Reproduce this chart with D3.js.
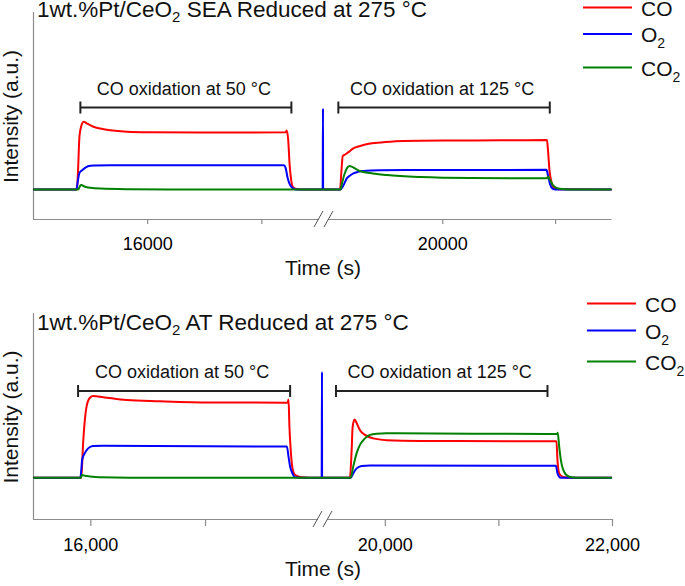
<!DOCTYPE html>
<html>
<head>
<meta charset="utf-8">
<script src="https://cdn.jsdelivr.net/npm/d3@7/dist/d3.min.js"></script>
<style>
  body { margin: 0; background: #fff; }
  svg { display: block; font-family: "Liberation Sans", Arial, Helvetica, sans-serif; }
</style>
</head>
<body>
<svg id="chart" width="685" height="586"></svg>
<script>
// ---------------- DATA ----------------
const seriesNames = ["CO", "O2", "CO2"];

// Panel 1: SEA (time s, intensity a.u.)
const topCO = [[15000,0],[15385,0],[15394,0.3],[15407,0.9],[15424,1.08],[15444,1.145],[15476,1.11],[15529,1.06],[15590,1.03],[15677,1.0],[15823,0.976],[16026,0.967],[16463,0.962],[17213,0.967],[17222,0.996],[17235,0.84],[17248,0.41],[17261,0.16],[17277,0.04],[17309,0.007],[17336,0],[17500,0],
  [19000,0],[19094,0],[19107,0.33],[19118,0.565],[19139,0.59],[19174,0.64],[19212,0.695],[19272,0.734],[19361,0.776],[19494,0.80],[19654,0.818],[20071,0.827],[20515,0.83],[20928,0.835],[20937,0.666],[20950,0.33],[20968,0.125],[20989,0.032],[21030,0.005],[21500,0]];
const topO2 = [[15000,0],[15380,0],[15394,0.16],[15407,0.28],[15433,0.33],[15459,0.37],[15503,0.40],[15546,0.404],[15677,0.41],[17200,0.41],[17213,0.36],[17231,0.19],[17248,0.09],[17274,0.024],[17300,0],[17500,0],[17537,0],[17540,1.37],[18944,0],
  [19098,0],[19121,0.057],[19154,0.188],[19183,0.235],[19212,0.272],[19254,0.298],[19301,0.311],[19449,0.323],[19805,0.328],[20924,0.331],[20937,0.24],[20955,0.09],[20977,0.015],[21004,0],[21500,0]];
const topCO2 = [[15000,0],[15398,0],[15411,0.057],[15424,0.074],[15450,0.05],[15503,0.027],[15590,0.014],[15852,0.004],[16200,0],[17500,0],
  [19000,0],[19098,0],[19112,0.108],[19134,0.26],[19156,0.36],[19177,0.396],[19201,0.382],[19236,0.345],[19272,0.31],[19361,0.277],[19510,0.243],[19805,0.21],[20249,0.193],[20928,0.188],[20937,0.218],[20955,0.16],[20977,0.083],[21012,0.027],[21066,0.007],[21120,0],[21500,0]];

// Panel 2: AT
const botCO = [[15500,0],[15921,0],[15937,0.59],[15952,0.98],[15967,1.21],[15996,1.36],[16024,1.39],[16112,1.37],[16316,1.32],[16607,1.30],[17044,1.28],[17721,1.276],[17728,1.33],[17736,0.87],[17749,0.42],[17766,0.13],[17786,0.048],[17830,0.014],[17917,0],[18000,0],
  [19500,0],[19693,0],[19708,0.47],[19717,0.87],[19734,0.99],[19752,0.93],[19781,0.81],[19825,0.73],[19897,0.67],[20015,0.64],[20307,0.625],[21511,0.62],[21520,0.30],[21535,0.076],[21564,0.019],[21623,0],[22000,0]];
const botO2 = [[15500,0],[15913,0],[15921,0.13],[15928,0.30],[15952,0.42],[15981,0.50],[16024,0.54],[16112,0.545],[17714,0.53],[17728,0.36],[17742,0.19],[17762,0.076],[17786,0.008],[17830,0],[18000,0],[18017,0],[18020,1.80],[19448,0],
  [19699,0],[19722,0.076],[19752,0.16],[19796,0.20],[19868,0.21],[21506,0.205],[21520,0.076],[21535,0.019],[21550,0],[22000,0]];
const botCO2 = [[15500,0],[15917,0],[15928,0.048],[15952,0.034],[15996,0.022],[16083,0.008],[16345,0],[18000,0],
  [19500,0],[19699,0],[19722,0.19],[19752,0.42],[19781,0.56],[19825,0.67],[19868,0.73],[19927,0.75],[20015,0.756],[21518,0.744],[21522,0.766],[21535,0.53],[21550,0.30],[21579,0.10],[21623,0.019],[21693,0],[22000,0]];

// Bracket annotations [start, end]
const topBrackets = [[15415,17263],[19079,20953]];
const botBrackets = [[15893,17742],[19570,21432]];
const bracketLabels = ["CO oxidation at 50 °C", "CO oxidation at 125 °C"];
const topBracketLevel = 1.385;
const botBracketLevel = 1.475;

// Axis domains (broken axis: [start, breakA, breakB, end])
const topXDomain = [15000, 17540, 18943, 21500];
const botXDomain = [15500, 18020, 19447, 22000];
const topYDomain = [-0.5, 3.0];
const botYDomain = [-0.7, 2.8];

// Tick values and labels
const topTicks = [16000, 17000, 20000, 21000];
const topTickLabels = {16000: "16000", 20000: "20000"};
const botTicks = [16000, 17000, 20000, 21000, 22000];
const botTickLabels = {16000: "16,000", 20000: "20,000", 22000: "22,000"};

const titleParts = [["1wt.%Pt/CeO", "2", " SEA Reduced at 275 °C"], ["1wt.%Pt/CeO", "2", " AT Reduced at 275 °C"]];

// ---------------- DRAW ----------------
const colors = {CO: "#ff0000", O2: "#0000ff", CO2: "#008000"};
const svg = d3.select("#chart");
svg.append("rect").attr("width", 685).attr("height", 586).attr("fill", "#fff");

function panel(cfg) {
  const g = svg.append("g");
  const x = d3.scaleLinear().domain(cfg.xDomain).range([33, cfg.breakX, cfg.breakX, cfg.right]);
  const y = d3.scaleLinear().domain(cfg.yDomain).range([cfg.bottom, cfg.top]);
  const axisCol = "#8c8c8c";

  // y axis line
  g.append("line").attr("x1", 33.5).attr("x2", 33.5).attr("y1", cfg.top).attr("y2", cfg.bottom)
    .attr("stroke", axisCol).attr("stroke-width", 1.2);

  // x axis via d3 axis
  const ax = d3.axisBottom(x).tickValues(cfg.ticks).tickSize(cfg.tickSize).tickPadding(cfg.tickPad)
    .tickFormat(d => cfg.tickLabels[d] || "");
  const axG = g.append("g").attr("transform", `translate(0,${cfg.bottom})`).call(ax);
  axG.select(".domain").remove();
  axG.selectAll(".tick line").attr("stroke", axisCol).attr("stroke-width", 1.2);
  axG.selectAll(".tick text").attr("fill", "#000").style("font-size", "18px")
    .style("font-family", '"Liberation Sans", Arial, sans-serif');
  // axis line with break gap
  g.append("line").attr("x1", 33).attr("x2", cfg.breakX - 4).attr("y1", cfg.bottom + 0.5).attr("y2", cfg.bottom + 0.5)
    .attr("stroke", axisCol).attr("stroke-width", 1.2);
  g.append("line").attr("x1", cfg.breakX + 5).attr("x2", cfg.right).attr("y1", cfg.bottom + 0.5).attr("y2", cfg.bottom + 0.5)
    .attr("stroke", axisCol).attr("stroke-width", 1.2);
  [-4.5, 5.5].forEach(off => {
    g.append("line")
      .attr("x1", cfg.breakX + off - 4.5).attr("y1", cfg.bottom + 8)
      .attr("x2", cfg.breakX + off + 4.5).attr("y2", cfg.bottom - 8)
      .attr("stroke", "#555").attr("stroke-width", 1);
  });

  // lines
  const line = d3.line().x(d => x(d[0])).y(d => y(d[1])).curve(d3.curveMonotoneX);
  const order = [["CO", cfg.data.CO], ["O2", cfg.data.O2], ["CO2", cfg.data.CO2]];
  order.forEach(([k, arr]) => {
    g.append("path").datum(arr).attr("d", line).attr("fill", "none")
      .attr("stroke", colors[k]).attr("stroke-width", 2).attr("stroke-linejoin", "round");
  });

  // brackets
  cfg.brackets.forEach((b, i) => {
    const by = y(cfg.bracketLevel);
    const x0 = x(b[0]), x1 = x(b[1]);
    g.append("line").attr("x1", x0).attr("x2", x1).attr("y1", by).attr("y2", by)
      .attr("stroke", "#222").attr("stroke-width", 2);
    [x0, x1].forEach(xx => g.append("line").attr("x1", xx).attr("x2", xx).attr("y1", by - 6).attr("y2", by + 6)
      .attr("stroke", "#222").attr("stroke-width", 2));
    g.append("text").attr("x", (x0 + x1) / 2 - 2).attr("y", by - 13).attr("text-anchor", "middle")
      .style("font-size", "18px").attr("fill", "#111").text(bracketLabels[i]);
  });

  // title
  const t = g.append("text").attr("x", 37).attr("y", cfg.titleY).style("font-size", "22.5px").attr("fill", "#111");
  t.append("tspan").text(cfg.title[0]);
  t.append("tspan").attr("dy", 5).style("font-size", "15px").text(cfg.title[1]);
  t.append("tspan").attr("dy", -5).text(cfg.title[2]);

  // axis titles
  g.append("text").attr("x", 323).attr("y", cfg.xLabelY).attr("text-anchor", "middle")
    .style("font-size", "21px").attr("fill", "#111").text("Time (s)");
  g.append("text").attr("transform", `translate(18,${(cfg.top + cfg.bottom) / 2 + 1}) rotate(-90)`)
    .attr("text-anchor", "middle").style("font-size", "21px").attr("fill", "#111").text("Intensity (a.u.)");

  // legend
  const legendKeys = [["CO", "CO", ""], ["O2", "O", "2"], ["CO2", "CO", "2"]];
  legendKeys.forEach(([k, main, sub], i) => {
    const ly = cfg.legendY[i];
    g.append("line").attr("x1", cfg.legendX).attr("x2", cfg.legendX + 49).attr("y1", ly).attr("y2", ly)
      .attr("stroke", colors[k]).attr("stroke-width", 2);
    const tx = g.append("text").attr("x", cfg.legendX + 58).attr("y", ly + 8).style("font-size", "21px").attr("fill", "#111");
    tx.append("tspan").text(main);
    if (sub) tx.append("tspan").attr("dy", 6).style("font-size", "14px").text(sub);
  });
}

panel({
  xDomain: topXDomain, yDomain: topYDomain, breakX: 323, right: 611.5, top: 12, bottom: 219,
  ticks: topTicks, tickLabels: topTickLabels, tickSize: 5, tickPad: 13,
  data: {CO: topCO, O2: topO2, CO2: topCO2},
  brackets: topBrackets, bracketLevel: topBracketLevel,
  title: titleParts[0], titleY: 17, xLabelY: 275,
  legendX: 583, legendY: [7.5, 34, 67.5]
});
panel({
  xDomain: botXDomain, yDomain: botYDomain, breakX: 322, right: 612, top: 313, bottom: 519,
  ticks: botTicks, tickLabels: botTickLabels, tickSize: 7, tickPad: 12.5,
  data: {CO: botCO, O2: botO2, CO2: botCO2},
  brackets: botBrackets, bracketLevel: botBracketLevel,
  title: titleParts[1], titleY: 330, xLabelY: 576,
  legendX: 587, legendY: [303.5, 330.5, 361.5]
});
</script>
</body>
</html>
